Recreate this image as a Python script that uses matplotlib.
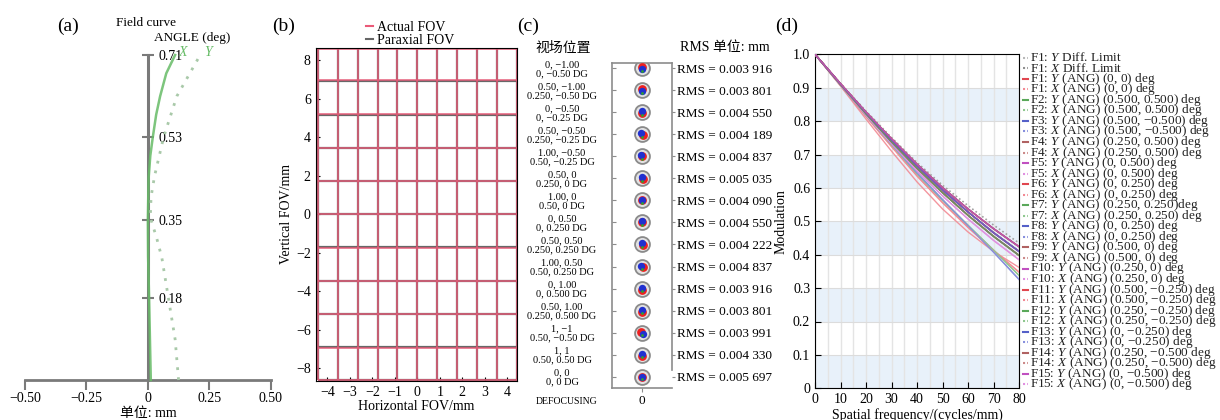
import numpy as np
import matplotlib
matplotlib.use("Agg")
import matplotlib.pyplot as plt
from matplotlib.lines import Line2D

plt.rcParams['font.family'] = ['Liberation Serif', 'Noto Sans CJK SC']
plt.rcParams['mathtext.fontset'] = 'custom'
plt.rcParams['mathtext.rm'] = 'Liberation Serif'
plt.rcParams['mathtext.it'] = 'Liberation Serif:italic'

W, H = 1220, 420

# (a) field curvature
angle_x = [0, 0.18, 0.27, 0.35, 0.44, 0.49, 0.53, 0.58, 0.62, 0.67, 0.71]
curve_x = [0.012, 0.005, 0.001, 0.0, 0.003, 0.01, 0.02, 0.034, 0.05, 0.075, 0.111]
angle_y = [0, 0.089, 0.178, 0.267, 0.31, 0.355, 0.40, 0.445, 0.53, 0.62, 0.71]
curve_y = [0.125, 0.111, 0.084, 0.057, 0.036, 0.01, 0.013, 0.027, 0.064, 0.118, 0.213]
field_ticks = [0.18, 0.35, 0.53, 0.71]
field_labels = ['0.18', '0.35', '0.53', '0.71']
focus_ticks = [-0.5, -0.25, 0, 0.25, 0.5]
focus_labels = ['−0.50', '−0.25', '0', '0.25', '0.50']

# (b) grid distortion
par_x = [-4.425, -3.54, -2.655, -1.77, -0.885, 0, 0.885, 1.77, 2.655, 3.54, 4.425]
par_y = [-8.625, -6.9, -5.175, -3.45, -1.725, 0, 1.725, 3.45, 5.175, 6.9, 8.625]
act_x = [-4.43, -3.55, -2.66, -1.77, -0.885, 0, 0.885, 1.77, 2.66, 3.55, 4.43]
act_y = [-8.6, -6.95, -5.19, -3.46, -1.73, 0, 1.73, 3.46, 5.19, 6.95, 8.6]

# (c) spot diagrams
field_pos = [('0, −1.00', '0, −0.50 DG'), ('0.50, −1.00', '0.250, −0.50 DG'),
             ('0, −0.50', '0, −0.25 DG'), ('0.50, −0.50', '0.250, −0.25 DG'),
             ('1.00, −0.50', '0.50, −0.25 DG'), ('0.50, 0', '0.250, 0 DG'),
             ('1.00, 0', '0.50, 0 DG'), ('0, 0.50', '0, 0.250 DG'),
             ('0.50, 0.50', '0.250, 0.250 DG'), ('1.00, 0.50', '0.50, 0.250 DG'),
             ('0, 1.00', '0, 0.500 DG'), ('0.50, 1.00', '0.250, 0.500 DG'),
             ('1, −1', '0.50, −0.50 DG'), ('1, 1', '0.50, 0.50 DG'), ('0, 0', '0, 0 DG')]
rms = ['0.003 916', '0.003 801', '0.004 550', '0.004 189', '0.004 837',
       '0.005 035', '0.004 090', '0.004 550', '0.004 222', '0.004 837',
       '0.003 916', '0.003 801', '0.003 991', '0.004 330', '0.005 697']
red_dx = [0, 0, 0, 1, 0, 1, 0, 0, 1, 1, 0, 0, -1, 0, 0]
red_dy = [1, 1, -1, -1, 0, -1, 0, 0, -1, 0, -1, -1, 1, -1, 0]
blue_dx = [0, 0, 0, -1, -1, 0, 0, 0, 0, -1, 0, 0, 1, 0, 0]
blue_dy = [-1, -1, 1, 1, 1, 1, 0, 1, 1, 1, 1, 1, -1, 1, 0]

# (d) MTF
freq = [0, 10, 20, 30, 40, 50, 60, 70, 80]
mtf_diff = [1.0, 0.913, 0.830, 0.751, 0.676, 0.608, 0.547, 0.489, 0.435]
mtf_p1 = [1.0, 0.912, 0.827, 0.747, 0.671, 0.601, 0.537, 0.478, 0.424]
mtf_p2 = [1.0, 0.911, 0.825, 0.743, 0.666, 0.594, 0.528, 0.466, 0.410]
mtf_p3 = [1.0, 0.910, 0.822, 0.738, 0.659, 0.586, 0.518, 0.455, 0.398]
mtf_p4 = [1.0, 0.909, 0.818, 0.732, 0.651, 0.576, 0.507, 0.443, 0.385]
mtf_p5 = [1.0, 0.905, 0.806, 0.710, 0.618, 0.537, 0.468, 0.410, 0.362]
mtf_p6 = [1.0, 0.907, 0.814, 0.724, 0.636, 0.556, 0.482, 0.413, 0.348]
mtf_p7 = [1.0, 0.908, 0.817, 0.729, 0.642, 0.563, 0.488, 0.414, 0.338]
mtf_p8 = [1.0, 0.908, 0.818, 0.731, 0.645, 0.565, 0.487, 0.408, 0.326]
fields = ['F%d' % i for i in range(1, 16)]
field_ang = ['(0, 0)', '(0.500, 0.500)', '(0.500, −0.500)', '(0.250, 0.500)',
             '(0, 0.500)', '(0, 0.250)', '(0.250, 0.250)', '(0, 0.250)',
             '(0.500, 0)', '(0.250, 0)', '(0.500, −0.250)', '(0.250, −0.250)',
             '(0, −0.250)', '(0.250, −0.500)', '(0, −0.500)']
mtf_y = [mtf_p1, mtf_p2, mtf_p2, mtf_p1, mtf_p1, mtf_p2, mtf_p3, mtf_p3,
         mtf_p1, mtf_p2, mtf_p3, mtf_p3, mtf_p2, mtf_p1, mtf_p1]
mtf_x = [mtf_p5, mtf_p7, mtf_p8, mtf_p3, mtf_p4, mtf_p6, mtf_p2, mtf_p2,
         mtf_p2, mtf_p3, mtf_p6, mtf_p7, mtf_p8, mtf_p3, mtf_p4]
col_y = ['#e0464f', '#5aa85a', '#5560c8', '#b06262', '#c050c0']
col_x = ['#f28a94', '#90c890', '#8890dd', '#cc8a8a', '#e090e0']

fig = plt.figure(figsize=(W / 100, H / 100), dpi=100)


def fx(x):
    return x / W


def fy(y):
    return 1 - y / H


# ---------- (a)
ax = fig.add_axes([fx(25), fy(380), 245.7 / W, 325 / H])
ax.set_xlim(-0.5, 0.5)
ax.set_ylim(0, 0.71)
ax.spines['top'].set_visible(False)
ax.spines['left'].set_visible(False)
ax.spines['right'].set_position(('data', 0))
ax.spines['right'].set_bounds(0, 0.71)
ax.spines['right'].set_color('#7a7a7a')
ax.spines['right'].set_linewidth(2.2)
ax.spines['bottom'].set_color('#7a7a7a')
ax.spines['bottom'].set_linewidth(2)
ax.yaxis.tick_right()
ax.set_yticks(field_ticks, field_labels)
ax.tick_params(axis='y', direction='inout', length=9, width=1.5, color='#7a7a7a',
               labelsize=10, pad=3)
ax.set_xticks(focus_ticks, focus_labels)
ax.tick_params(axis='x', direction='out', length=7, width=1.5, color='#7a7a7a',
               labelsize=10, pad=2)
ax.plot(curve_y, angle_y, ls=(0, (1, 2.6)), lw=2, color='#a9c9a9', clip_on=False, zorder=3)
ax.plot(curve_x, angle_x, lw=1.8, color='#66bb66', alpha=0.85, clip_on=False, zorder=4)
fig.text(fx(146), fy(23), 'Field curve', ha='center', va='center', fontsize=9.5)
fig.text(fx(192), fy(38), 'ANGLE (deg)', ha='center', va='center', fontsize=9.5)
fig.text(fx(183), fy(53), 'X', ha='center', va='center', fontsize=10,
         style='italic', color='#66bb66')
fig.text(fx(208), fy(53), 'Y', ha='center', va='center', fontsize=10,
         style='italic', color='#66bb66')
fig.text(fx(148), fy(413), '单位: mm', ha='center', va='center', fontsize=10)
fig.text(fx(68), fy(26), '(a)', ha='center', va='center', fontsize=14)

# ---------- (b)
ax = fig.add_axes([fx(315.7), fy(380.7), 201.3 / W, 333 / H])
ax.vlines(par_x, par_y[0], par_y[-1], color='#4d4d4d', lw=1.6, alpha=0.85)
ax.hlines(par_y, par_x[0], par_x[-1], color='#4d4d4d', lw=1.6, alpha=0.85)
ax.vlines(act_x, act_y[0], act_y[-1], color='#ea5a78', lw=1.2, alpha=0.85)
ax.hlines(act_y, act_x[0], act_x[-1], color='#ea5a78', lw=1.2, alpha=0.85)
ax.set_xlim(-4.52, 4.43)
ax.set_ylim(-8.65, 8.65)
ax.set_xticks(range(-4, 5))
ax.set_yticks(range(-8, 9, 2))
ax.tick_params(direction='in', length=3, labelsize=10)
ax.set_xlabel('Horizontal FOV/mm', fontsize=10, labelpad=1)
ax.set_ylabel('Vertical FOV/mm', fontsize=10, labelpad=2)
leg_h = [Line2D([], [], color='#ea5a78', lw=1.5), Line2D([], [], color='#666666', lw=1.5)]
ax.legend(leg_h, ['Actual FOV', 'Paraxial FOV'], loc='lower center',
          bbox_to_anchor=(0.47, 0.995), frameon=False, fontsize=10, handlelength=0.5,
          handletextpad=0.3, labelspacing=0.0, borderpad=0, borderaxespad=0.2)
fig.text(fx(284), fy(26), '(b)', ha='center', va='center', fontsize=14)

# ---------- (c)
rows = np.arange(len(rms))
row_px = 22.03
ax = fig.add_axes([fx(612), fy(388.3), 59.7 / W, 325 / H])
ax.set_xlim(-29.85, 29.85)
ax.set_ylim(14.53, -0.227)
ax.scatter(np.zeros(len(rows)), rows, s=115, facecolor='#e2e2e2', edgecolor='#8a8a8a',
           lw=1.3, zorder=2)
ax.scatter(red_dx, rows - np.array(red_dy) / row_px, s=40, color='#ee2020', lw=0, zorder=3)
ax.scatter(blue_dx, rows - np.array(blue_dy) / row_px, s=28, color='#2030d0', lw=0, zorder=4)
ax.scatter(np.array(blue_dx) * 0, rows + 2.5 / row_px, s=4, color='#30a030', lw=0, zorder=5)
for s in ax.spines.values():
    s.set_color('#8c8c8c')
    s.set_linewidth(1.2)
ax.spines['right'].set_visible(False)
ax.set_xticks([0], ['0'])
ax.tick_params(axis='x', direction='out', length=3, color='#8c8c8c', labelsize=9.5, pad=2)
ax.set_yticks(rows, [a + '\n' + b for a, b in field_pos], ha='center', linespacing=1.0)
ax.tick_params(axis='y', direction='in', length=3, color='#8c8c8c', labelsize=7.5, pad=36)
ax2 = ax.twinx()
ax2.set_ylim(14.53, -0.227)
for s in ax2.spines.values():
    s.set_visible(False)
ax2.spines['right'].set_visible(True)
ax2.spines['right'].set_color('#8c8c8c')
ax2.spines['right'].set_linewidth(1.2)
ax2.spines['right'].set_bounds(-0.227, 13.7)
ax2.set_yticks(rows, ['RMS = ' + v for v in rms])
ax2.tick_params(axis='y', direction='out', length=2.5, color='#8c8c8c', labelsize=9.5, pad=1)
fig.text(fx(563), fy(48), '视场位置', ha='center', va='center', fontsize=10)
fig.text(fx(725), fy(48), 'RMS 单位: mm', ha='center', va='center', fontsize=10)
fig.text(fx(567), fy(402), 'DEFOCUSING', ha='center', va='center', fontsize=7)
fig.text(fx(528), fy(26), '(c)', ha='center', va='center', fontsize=14)

# ---------- (d)
ax = fig.add_axes([fx(815), fy(388.3), 204 / W, 334 / H])
for lo in np.arange(0, 1.0, 0.2):
    ax.axhspan(lo, lo + 0.1, color='#e8f1fa', lw=0, zorder=0)
ax.set_xlim(0, 80)
ax.set_ylim(0, 1.0)
ax.set_xticks(range(0, 81, 10))
ax.set_xticks(range(0, 81, 5), minor=True)
ax.set_yticks(np.arange(0, 1.01, 0.1), ['0'] + ['%.1f' % v for v in np.arange(0.1, 1.01, 0.1)])
ax.grid(True, which='both', axis='x', color='#e4e4e4', lw=1, zorder=1)
ax.grid(True, which='major', axis='y', color='#dcdcdc', lw=0.8, zorder=1)
ax.set_axisbelow(True)
ax.tick_params(which='major', direction='in', length=4, labelsize=10)
ax.tick_params(which='minor', length=0)
ax.set_xlabel('Spatial frequency/(cycles/mm)', fontsize=10, labelpad=1)
ax.set_ylabel('Modulation', fontsize=10, labelpad=4)

# legend entries: (label, color, dotted?)
entries = [('F1: $Y$ Diff. Limit', '#b8b8b8', True), ('F1: $X$ Diff. Limit', '#909090', True)]
ax.plot(freq, mtf_diff, color='#a0a0a0', lw=1.2, ls=(0, (1, 1.5)), zorder=3)
for i, f in enumerate(fields):
    c = i % 5
    ax.plot(freq, mtf_x[i], color=col_x[c], lw=1.0, alpha=0.9, zorder=3)
    ax.plot(freq, mtf_y[i], color=col_y[c], lw=1.0, alpha=0.8, zorder=4)
    ang_y = field_ang[i]
    tail_y = ' deg'
    if f == 'F7':
        tail_y = 'deg'
    if f == 'F14':
        ang_y = ang_y[:-1]
    entries.append((f + ': $Y$ (ANG) ' + ang_y + tail_y, col_y[c], False))
    entries.append((f + ': $X$ (ANG) ' + field_ang[i] + ' deg', col_x[c], True))

# hand-built legend with even row pitch (the reference packs rows tightly)
row0, pitch = 57.7, 10.54
for k, (lab, col, dotted) in enumerate(entries):
    yy = 1 - (row0 + pitch * k - 54.3) / 334
    ax.plot([1.02, 1.045], [yy, yy], transform=ax.transAxes, clip_on=False,
            color=col, lw=1.5, ls=(0, (1, 1)) if dotted else '-')
    ax.text(1.054, yy, lab, transform=ax.transAxes, fontsize=9.5, va='center',
            ha='left', color='#222222')
fig.text(fx(787), fy(26), '(d)', ha='center', va='center', fontsize=14)

fig.savefig('out.png', dpi=100)
